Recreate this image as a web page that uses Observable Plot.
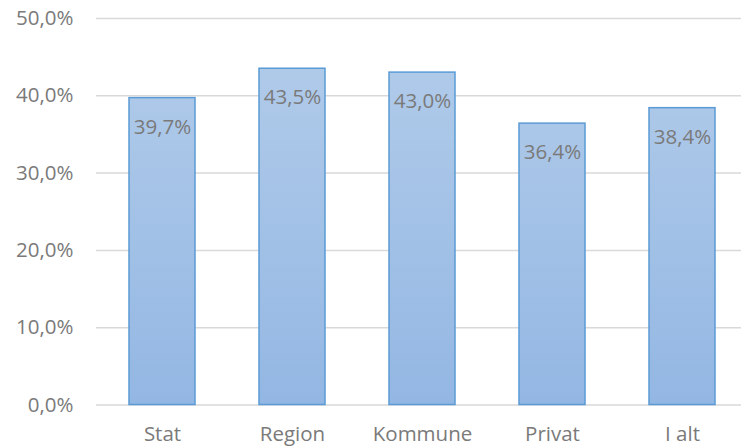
<!DOCTYPE html>
<html>
<head>
<meta charset="utf-8">
<script src="https://cdn.jsdelivr.net/npm/d3@7"></script>
<script src="https://cdn.jsdelivr.net/npm/@observablehq/plot@0.6"></script>
<style>
  html, body { margin: 0; padding: 0; background: #fff; }
  #chart svg { display: block; }
</style>
</head>
<body>
<div id="chart"></div>
<script>
const categories = ["Stat", "Region", "Kommune", "Privat", "I alt"];
const values = [39.7, 43.5, 43.0, 36.4, 38.4];
const yTicks = [0, 10, 20, 30, 40, 50];

const data = categories.map((c, i) => ({category: c, value: values[i]}));
const fmt = v => v.toFixed(1).replace(".", ",") + "%";

const chart = Plot.plot({
  width: 741,
  height: 447,
  marginTop: 18,
  marginBottom: 42.5,
  marginLeft: 96,
  marginRight: 0,
  style: {fontFamily: "'Open Sans', sans-serif", fontSize: "20.5px", color: "#7a7a7a", background: "#fff"},
  x: {domain: categories, range: [95.5, 748.5], paddingInner: 0.49, paddingOuter: 0.245, label: null},
  y: {domain: [0, 50], ticks: yTicks, label: null},
  marks: [
    Plot.ruleY(yTicks, {stroke: "#d9d9d9", strokeWidth: 1.5, strokeOpacity: 1}),
    Plot.barY(data, {x: "category", y: "value", fill: "url(#barGrad)", stroke: "#5b9bd5", strokeWidth: 1.5}),
    Plot.text(data, {x: "category", y: "value", text: d => fmt(d.value), dy: 29, fill: "#7a7a7a", fontSize: 20.5}),
    Plot.axisY({ticks: yTicks, tickFormat: fmt, tickSize: 0, tickPadding: 23, fontSize: 20.5, fill: "#7a7a7a"}),
    Plot.axisX({tickSize: 0, tickPadding: 21, fontSize: 20.5, fill: "#7a7a7a"})
  ]
});

const svg = d3.select(chart);
const defs = svg.insert("defs", ":first-child");
const grad = defs.append("linearGradient").attr("id", "barGrad")
  .attr("gradientUnits", "userSpaceOnUse")
  .attr("x1", 0).attr("y1", 18).attr("x2", 0).attr("y2", 404.5);
grad.append("stop").attr("offset", "0%").attr("stop-color", "#b4cdea");
grad.append("stop").attr("offset", "100%").attr("stop-color", "#93b7e3");

document.getElementById("chart").appendChild(chart);
</script>
</body>
</html>
